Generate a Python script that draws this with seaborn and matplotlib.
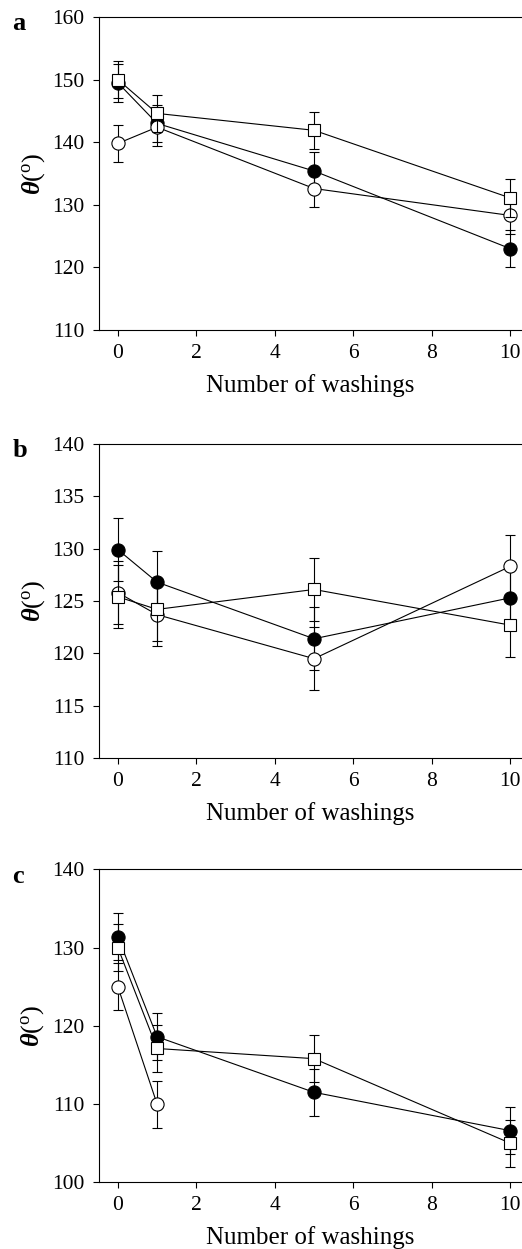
import matplotlib
matplotlib.use("Agg")
import matplotlib.pyplot as plt
import seaborn as sns
import pandas as pd

sns.set_theme(style="ticks")
plt.rcParams['font.family'] = ['Liberation Serif', 'DejaVu Serif']
plt.rcParams['mathtext.fontset'] = 'custom'
plt.rcParams['mathtext.rm'] = 'Liberation Serif'
plt.rcParams['mathtext.it'] = 'Liberation Serif:italic'
plt.rcParams['mathtext.bf'] = 'Liberation Serif:bold'
plt.rcParams['mathtext.bfit'] = 'Liberation Serif:italic:bold'
plt.rcParams['text.color'] = 'black'
plt.rcParams['axes.labelcolor'] = 'black'

washings = [0, 1, 5, 10]

# Panel a
a_filled = [149.5, 143.0, 135.4, 123.0]
a_open = [139.8, 142.4, 132.6, 128.3]
a_square = [150.0, 144.6, 141.9, 131.1]
a_err = [3.0, 3.0, 3.0, 3.0]

# Panel b
b_filled = [129.9, 126.8, 121.4, 125.3]
b_open = [125.8, 123.7, 119.5, 128.3]
b_square = [125.4, 124.2, 126.1, 122.7]
b_err = [3.0, 3.0, 3.0, 3.0]

# Panel c
c_washings_open = [0, 1]
c_filled = [131.4, 118.6, 111.5, 106.6]
c_open = [125.0, 110.0]
c_square = [130.0, 117.1, 115.8, 105.0]
c_err = [3.0, 3.0, 3.0, 3.0]

panel_letters = ['a', 'b', 'c']
xlabel = 'Number of washings'
ylabel = r'$\mathbfit{\theta}$($^{\mathrm{o}}$)'
xticks = [0, 2, 4, 6, 8, 10]
yticks_a = [110, 120, 130, 140, 150, 160]
yticks_b = [110, 115, 120, 125, 130, 135, 140]
yticks_c = [100, 110, 120, 130, 140]

fig = plt.figure(figsize=(5.22, 12.49), dpi=100)
left = 99 / 522
boxes = [(330, 17), (758.3, 443.7), (1182.3, 869.3)]
axes = []
for bot, top in boxes:
    b = 1 - bot / 1249
    t = 1 - top / 1249
    axes.append(fig.add_axes([left, b, 1 - left, t - b]))

panels = [
    (axes[0], [(washings, a_filled, a_err, 'filled'), (washings, a_open, a_err, 'open'),
               (washings, a_square, a_err, 'square')], (110, 160), yticks_a),
    (axes[1], [(washings, b_filled, b_err, 'filled'), (washings, b_open, b_err, 'open'),
               (washings, b_square, b_err, 'square')], (110, 140), yticks_b),
    (axes[2], [(washings, c_filled, c_err, 'filled'), (c_washings_open, c_open, c_err[:2], 'open'),
               (washings, c_square, c_err, 'square')], (100, 140), yticks_c),
]

styles = {
    'filled': dict(marker='o', mfc='black', mec='black', ms=9.5),
    'open': dict(marker='o', mfc='white', mec='black', ms=9.5),
    'square': dict(marker='s', mfc='white', mec='black', ms=9.0),
}

for i, (ax, series, ylim, yt) in enumerate(panels):
    z = 3
    for xs, ys, es, kind in series:
        ax.errorbar(xs, ys, yerr=es, fmt='none', ecolor='black', elinewidth=0.8,
                    capsize=3.5, capthick=0.8, zorder=z)
        df = pd.DataFrame({'x': xs, 'y': ys})
        st = styles[kind]
        sns.lineplot(data=df, x='x', y='y', ax=ax, color='black', linewidth=0.8,
                     marker=st['marker'], markersize=st['ms'],
                     markerfacecolor=st['mfc'], markeredgecolor=st['mec'],
                     markeredgewidth=0.8, zorder=z + 1)
        z += 2
    ax.set_xlim(-0.48, 10.3)
    ax.set_ylim(*ylim)
    ax.set_xticks(xticks)
    ax.set_yticks(yt)
    ax.spines['right'].set_visible(False)
    for s in ['left', 'bottom', 'top']:
        ax.spines[s].set_linewidth(0.8)
        ax.spines[s].set_color('black')
    ax.tick_params(direction='out', length=4, width=0.8, labelsize=15.5,
                   colors='black', labelcolor='black')
    ax.tick_params(axis='x', pad=6)
    ax.tick_params(axis='y', pad=6.5)
    ax.set_xlabel(xlabel, fontsize=18, labelpad=8, color='black')
    ax.set_ylabel(ylabel, fontsize=19, labelpad=4, color='black')
    ax.set_facecolor('white')
    ax.text(-0.205, 0.978, panel_letters[i], transform=ax.transAxes, fontsize=19,
            fontweight='bold', va='center', ha='left', color='black')

fig.savefig('out.png', dpi=100, facecolor='white')
